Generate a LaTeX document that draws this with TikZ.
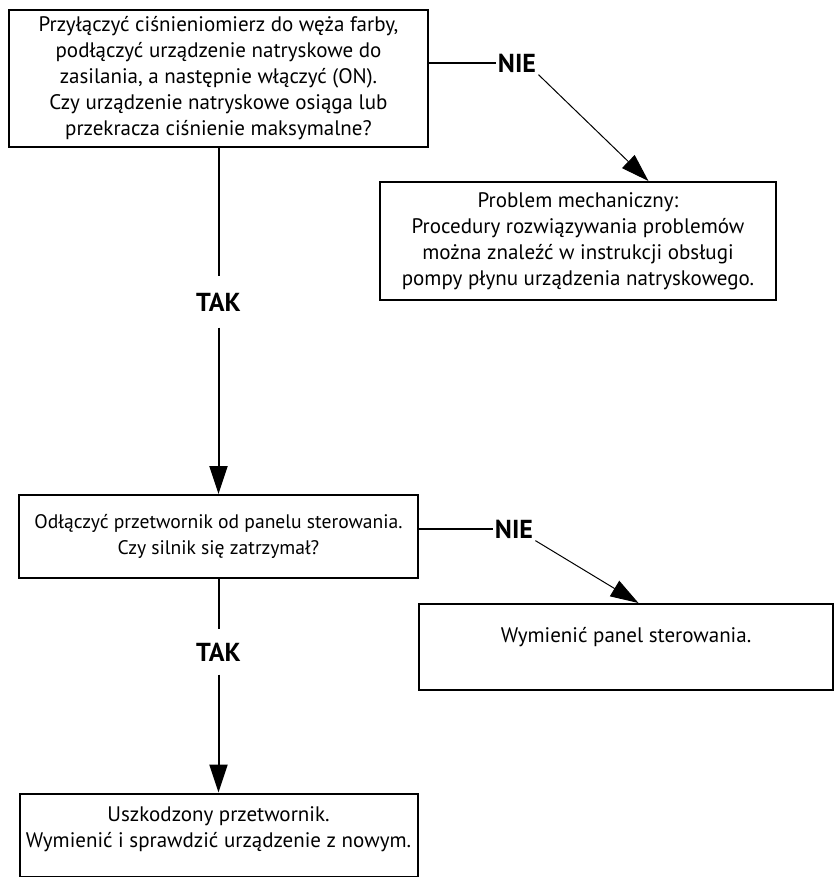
\documentclass[tikz,border=0pt]{standalone}
\usepackage{fontspec}
\setmainfont{PT Sans}
\usetikzlibrary{arrows.meta, calc, positioning}

\tikzset{
  box/.style={draw, line width=1pt, align=center, inner sep=0pt},
  answer/.style={font=\fontsize{13}{14}\selectfont\bfseries, inner xsep=1pt, inner ysep=1pt},
  gapanswer/.style={answer, inner ysep=8pt},
  link/.style={line width=1pt},
  flow/.style={line width=1pt, -{Triangle[length=14pt, width=9pt]}},
  slant/.style={line width=0.5pt, -{Triangle[length=14pt, width=9pt]}},
}

\begin{document}
\begin{tikzpicture}[x=0.5pt, y=-0.5pt, font=\fontsize{10.5}{13}\selectfont]
    \useasboundingbox (0,0) rectangle (834,877);

    % Question boxes
    \node[box, minimum width=209.5pt, minimum height=68.5pt] (pressure) at (218.5,78.5)
        {Przyłączyć ciśnieniomierz do węża farby,\\ podłączyć urządzenie natryskowe do\\ zasilania, a następnie włączyć (ON).\\ Czy urządzenie natryskowe osiąga lub\\ przekracza ciśnienie maksymalne?};
    \node[box, minimum width=199.5pt, minimum height=41.5pt, font=\fontsize{9.8}{13}\selectfont] (disconnect) at (218.5,536.5)
        {Odłączyć przetwornik od panelu sterowania.\\ Czy silnik się zatrzymał?};

    % Result boxes
    \node[box, minimum width=198pt, minimum height=59pt] (mechanic) at (578,241)
        {Problem mechaniczny:\\ Procedury rozwiązywania problemów\\ można znaleźć w instrukcji obsługi\\ pompy płynu urządzenia natryskowego.};
    \node[box, minimum width=207pt, minimum height=43pt] (panel) at (626,647)
        {Wymienić panel sterowania.\\[-5pt] \strut};
    \node[box, minimum width=199pt, minimum height=41.5pt] (sensor) at (218.5,835)
        {Uszkodzony przetwornik.\\ Wymienić i sprawdzić urządzenie z nowym.\\[-9pt] \strut};

    % Answers
    \node[answer] (nie1) at (517,63) {NIE};
    \node[answer] (nie2) at (514,529) {NIE};
    \node[gapanswer] (tak1) at (218.5,302) {TAK};
    \node[gapanswer, inner ysep=6.5pt] (tak2) at (218.5,652) {TAK};

    % NIE branches
    \draw[link] (nie1.west -| pressure.east) -- (nie1.west);
    \draw[slant] (nie1.south east) -- ($(mechanic.north west)!0.677!(mechanic.north east)$);
    \draw[link] (nie2.west -| disconnect.east) -- (nie2.west);
    \draw[slant] (nie2.south east) -- ($(panel.north west)!0.53!(panel.north east)$);

    % TAK branches
    \draw[link] (pressure) -- (tak1);
    \draw[flow] (tak1) -- (disconnect);
    \draw[link] (disconnect) -- (tak2);
    \draw[flow] (tak2) -- (sensor);
\end{tikzpicture}
\end{document}
